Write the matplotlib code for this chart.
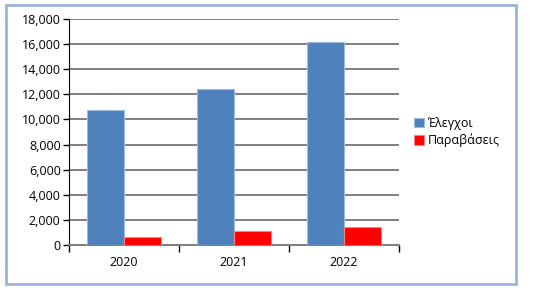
import matplotlib.pyplot as plt
import numpy as np
from matplotlib.patches import Rectangle

years = ["2020", "2021", "2022"]
elegxoi = [10750, 12450, 16150]
paravaseis = [620, 1100, 1450]

plt.rcParams['font.family'] = ['Open Sans', 'DejaVu Sans']

fig = plt.figure(figsize=(5.33, 2.91), dpi=100)
ax = fig.add_axes([69 / 533, 1 - 245 / 291, 330 / 533, 226 / 291])

x = np.arange(len(years))
w = 0.336
ax.bar(x - w / 2, elegxoi, w, color="#4F81BD", edgecolor="#9DB9DE", linewidth=0.8,
       label="Έλεγχοι", zorder=3)
ax.bar(x + w / 2, paravaseis, w, color="#FF0000", edgecolor="#FF8080", linewidth=0.8,
       label="Παραβάσεις", zorder=3)

ax.set_xlim(-0.5, 2.5)
ax.set_ylim(0, 18000)
ax.set_yticks(range(0, 18001, 2000))
ax.set_yticklabels([f"{v:,}" for v in range(0, 18001, 2000)])
ax.set_xticks(x)
ax.set_xticklabels(years)
ax.set_xticks([-0.5, 0.5, 1.5, 2.5], minor=True)

ax.grid(axis="y", color="#7F7F7F", linewidth=1.4, zorder=0)
ax.tick_params(axis="y", length=4, width=1, color="black", labelsize=9, pad=2)
ax.tick_params(axis="x", which="major", length=0, labelsize=9, pad=8)
ax.tick_params(axis="x", which="minor", length=5, width=1, color="black", direction="out")

for s in ["top", "right"]:
    ax.spines[s].set_visible(False)
ax.spines["left"].set_color("black")
ax.spines["bottom"].set_color("#7F7F7F")
ax.spines["bottom"].set_linewidth(1.4)

leg = ax.legend(loc="center left", bbox_to_anchor=(1.03, 0.5), frameon=False,
                fontsize=9, handlelength=0.8, handleheight=0.8, handletextpad=0.3,
                labelspacing=0.3, borderaxespad=0)

fig.patches.append(Rectangle((6 / 533, 1 - 284 / 291), 510 / 533, 279 / 291,
                             transform=fig.transFigure, fill=False,
                             edgecolor="#9BB3E0", linewidth=2))

fig.savefig("out.png", dpi=100)
